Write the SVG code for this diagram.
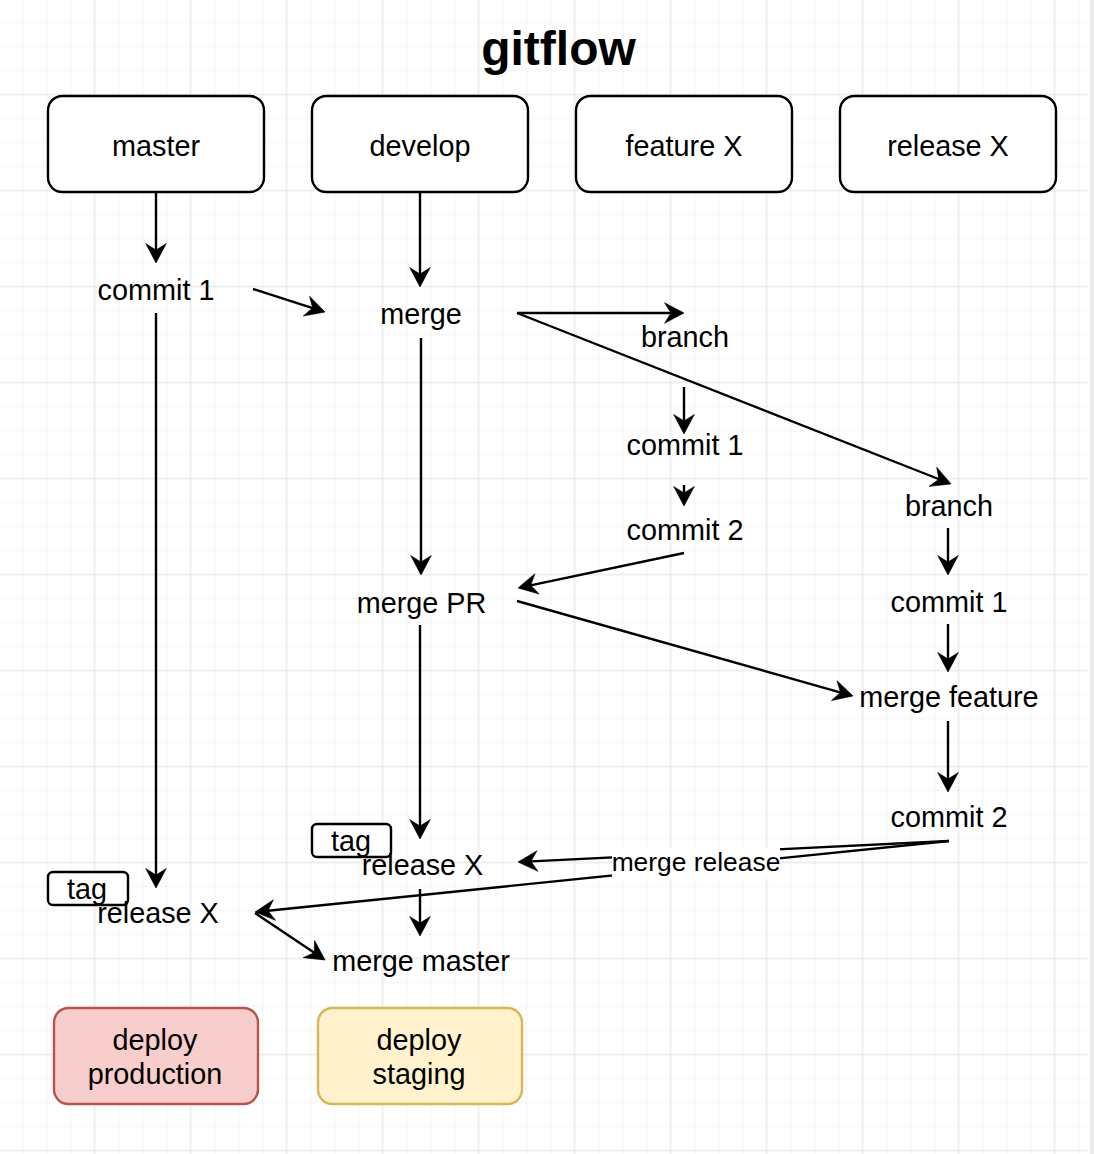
<svg xmlns="http://www.w3.org/2000/svg" width="1094" height="1154" viewBox="0 0 1094 1154">
<style>
.box{fill:#fff;stroke:#000;stroke-width:2.4}
.t{font-family:"Liberation Sans",Arial,Helvetica,sans-serif;font-size:28.8px;text-anchor:middle;fill:#000}
.lbl{font-family:"Liberation Sans",Arial,Helvetica,sans-serif;font-size:26.4px;text-anchor:middle;fill:#000}
.title{font-family:"Liberation Sans",Arial,Helvetica,sans-serif;font-size:48px;font-weight:bold;text-anchor:middle;fill:#000}
.e{stroke:#000;stroke-width:2.4;fill:none;marker-end:url(#arr)}
</style>
<defs>
<pattern id="grid" patternUnits="userSpaceOnUse" x="34.5" y="34.5" width="96" height="96">
<rect width="96" height="96" fill="#fff"/>
<path d="M12 0V96M36 0V96M84 0V96M0 12H96M0 36H96M0 84H96" stroke="#f1f1f1" stroke-width="1"/>
<path d="M60 0V96M0 60H96" stroke="#dfdfdf" stroke-width="1"/>
</pattern>
<marker id="arr" markerUnits="userSpaceOnUse" viewBox="-14 -14 28 28" markerWidth="28" markerHeight="28" refX="0" refY="0" orient="auto">
<path d="M8,0 L-11.5,-10.3 L-5,0 L-11.5,10.3 Z" fill="#000" stroke="#000" stroke-width="0.6" stroke-linejoin="round"/>
</marker>
</defs>
<rect x="0" y="0" width="1088" height="1154" fill="url(#grid)"/>
<rect x="1088" y="0" width="2" height="1154" fill="#fff"/>
<rect x="1090" y="0" width="4" height="1154" fill="#ececec"/>

<text class="title" x="558.5" y="65">gitflow</text>

<g id="connectors">
<line class="e" x1="156" y1="192" x2="156" y2="255"/>
<line class="e" x1="253" y1="289" x2="317.4" y2="309.6"/>
<line class="e" x1="420" y1="192" x2="420" y2="279"/>
<line class="e" x1="156" y1="313" x2="156" y2="880"/>
<line class="e" x1="421" y1="338" x2="421" y2="567"/>
<line class="e" x1="517" y1="313" x2="676" y2="313"/>
<line class="e" x1="517" y1="313" x2="943.6" y2="481"/>
<line class="e" x1="684" y1="387" x2="684" y2="426"/>
<line class="e" x1="684" y1="485" x2="684" y2="498"/>
<line class="e" x1="684" y1="553" x2="525.8" y2="586.3"/>
<line class="e" x1="517" y1="601" x2="845.3" y2="693.8"/>
<line class="e" x1="948" y1="528" x2="948" y2="567"/>
<line class="e" x1="948" y1="624" x2="948" y2="664"/>
<line class="e" x1="948" y1="721" x2="948" y2="784"/>
<line class="e" x1="420" y1="625" x2="420" y2="831"/>
<line class="e" x1="420" y1="889" x2="420" y2="928"/>
<line class="e" x1="255" y1="913" x2="318.4" y2="955.5"/>
<line class="e" x1="949" y1="841" x2="526" y2="861.6"/>
<line class="e" x1="949" y1="841" x2="263" y2="911.2"/>
<g id="label-merge-release">
<rect x="612" y="848" width="168" height="31" fill="#fff"/>
<text class="lbl" x="696" y="871">merge release</text>
</g>
</g>

<g id="node-master"><rect class="box" x="48" y="96" width="216" height="96" rx="14.4"/><text class="t" x="156" y="155.5">master</text></g>
<g id="node-develop"><rect class="box" x="312" y="96" width="216" height="96" rx="14.4"/><text class="t" x="420" y="155.5">develop</text></g>
<g id="node-featureX"><rect class="box" x="576" y="96" width="216" height="96" rx="14.4"/><text class="t" x="684" y="155.5">feature X</text></g>
<g id="node-releaseX"><rect class="box" x="840" y="96" width="216" height="96" rx="14.4"/><text class="t" x="948" y="155.5">release X</text></g>

<g id="m-commit1"><text class="t" x="156" y="300">commit 1</text></g>
<g id="d-merge"><text class="t" x="421" y="323.5">merge</text></g>
<g id="f-branch"><text class="t" x="685" y="347">branch</text></g>
<g id="f-commit1"><text class="t" x="685" y="455">commit 1</text></g>
<g id="f-commit2"><text class="t" x="685" y="539.5">commit 2</text></g>
<g id="r-branch"><text class="t" x="949" y="515.5">branch</text></g>
<g id="d-mergePR"><text class="t" x="421.5" y="612.5">merge PR</text></g>
<g id="r-commit1"><text class="t" x="949" y="611.5">commit 1</text></g>
<g id="r-mergefeature"><text class="t" x="949" y="707">merge feature</text></g>
<g id="r-commit2"><text class="t" x="949" y="827">commit 2</text></g>

<g id="d-tag"><rect class="box" x="312" y="824" width="79" height="33" rx="5"/><text class="t" x="351" y="850.5">tag</text></g>
<g id="d-releaseX"><text class="t" x="422.5" y="875">release X</text></g>
<g id="m-tag"><rect class="box" x="48" y="872" width="80" height="33" rx="5"/><text class="t" x="87" y="898.5">tag</text></g>
<g id="m-releaseX"><text class="t" x="158" y="923">release X</text></g>
<g id="d-mergemaster"><text class="t" x="421" y="971">merge master</text></g>

<g id="deploy-production"><rect x="54" y="1008" width="204" height="96" rx="14.4" fill="#f8cecc" stroke="#b85450" stroke-width="2.4"/><text class="t" x="155" y="1050">deploy</text><text class="t" x="155" y="1084">production</text></g>
<g id="deploy-staging"><rect x="318" y="1008" width="204" height="96" rx="14.4" fill="#fff2cc" stroke="#d6b656" stroke-width="2.4"/><text class="t" x="419" y="1050">deploy</text><text class="t" x="419" y="1084">staging</text></g>
</svg>
